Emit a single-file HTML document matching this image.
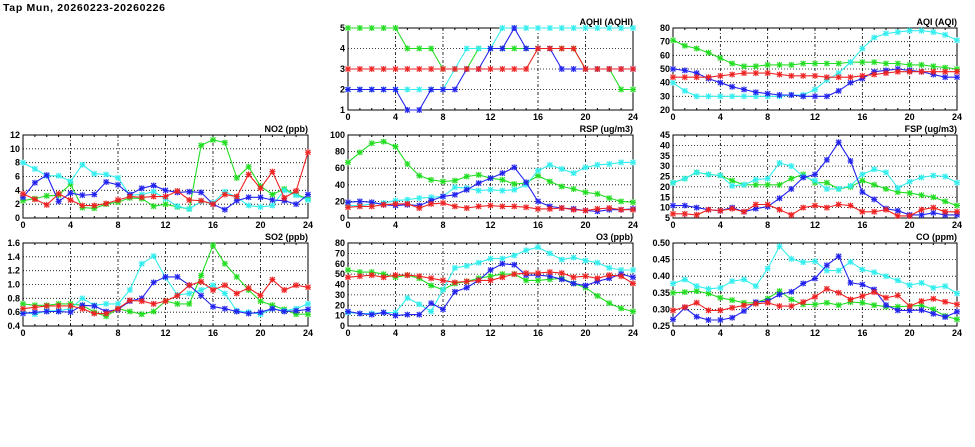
<!DOCTYPE html>
<html><head><meta charset="utf-8"><style>
html,body{margin:0;padding:0;background:#fff;width:975px;height:447px;overflow:hidden}
svg text{font-family:"Liberation Sans",sans-serif;font-weight:bold;font-size:9px;fill:#000}
</style></head><body>
<svg id="s" width="975" height="447" xmlns="http://www.w3.org/2000/svg">
<text x="3" y="11" style="font-size:10.5px" textLength="162">Tap Mun, 20260223-20260226</text>
</svg>
<script>
const S=document.getElementById('s');const NS='http://www.w3.org/2000/svg';
function el(t,a,txt){const e=document.createElementNS(NS,t);for(const k in a)e.setAttribute(k,a[k]);if(txt!==undefined)e.textContent=txt;S.appendChild(e);return e;}
const cols=[[23,308],[348,633],[673,957]],rows=[[28,110],[135,218],[243,326]];
const C={g:'#22dd22',c:'#33eeee',b:'#2222ee',r:'#ee2222'};
const P=[
{c:1,r:0,t:'AQHI (AQHI)',y0:1,y1:5,ticks:[1,2,3,4,5],f:0,d:{
g:[5,5,5,5,5,4,4,4,3,3,3,4,4,4,4,4,4,4,4,4,3,3,3,2,2],
c:[2,2,2,2,2,2,2,2,2,3,4,4,4,5,5,5,5,5,5,5,5,5,5,5,5],
b:[2,2,2,2,2,1,1,2,2,2,3,3,4,4,5,4,4,4,3,3,3,3,3,3,3],
r:[3,3,3,3,3,3,3,3,3,3,3,3,3,3,3,3,4,4,4,4,3,3,3,3,3]}},
{c:2,r:0,t:'AQI (AQI)',y0:20,y1:80,ticks:[20,30,40,50,60,70,80],f:0,d:{
g:[71,67,65,62,58,54,52,52,53,53,53,54,54,54,54,55,55,55,54,54,53,53,52,51,50],
c:[40,34,30,30,30,30,30,30,30,30,31,31,35,42,47,55,65,73,76,77,78,78,77,75,71],
b:[50,49,47,43,40,37,35,33,32,31,31,30,30,30,34,40,43,48,49,50,49,48,46,44,44],
r:[44,44,44,44,45,46,47,47,47,46,45,45,45,44,44,44,45,46,47,48,48,48,48,48,48]}},
{c:0,r:1,t:'NO2 (ppb)',y0:0,y1:12,ticks:[0,2,4,6,8,10,12],f:0,d:{
g:[2.5,2.8,3.2,3.3,4.9,1.5,1.4,2.0,2.3,2.9,2.8,1.7,2.0,1.6,1.3,10.5,11.3,10.9,5.8,7.4,4.6,3.4,4.2,3.4,2.8],
c:[8,7.1,6.1,6.1,5.3,7.7,6.4,6.3,5.8,3.3,3.4,3.8,2.8,1.7,1.3,2.4,2.2,3.8,3.0,1.8,1.6,1.8,4.0,3.3,2.6],
b:[3.0,5.1,6.2,2.4,3.6,3.3,3.4,5.2,4.8,3.4,4.3,4.7,4.0,3.7,3.8,3.7,2.0,1.2,2.5,3.0,3.0,2.6,2.5,2.0,3.4],
r:[3.5,2.7,1.9,3.5,2.6,1.8,1.8,2.1,2.6,3.1,3.0,3.1,3.1,3.9,2.6,2.5,2.0,3.4,3.1,6.3,4.3,6.7,2.9,3.9,9.5]}},
{c:1,r:1,t:'RSP (ug/m3)',y0:0,y1:100,ticks:[0,20,40,60,80,100],f:0,d:{
g:[67,79,90,92,86,65,51,46,44,45,50,52,48,46,41,42,51,44,38,35,31,29,24,20,19],
c:[15,15,17,18,21,22,24,25,26,37,36,33,34,33,34,40,57,64,59,54,61,64,65,67,67],
b:[19,20,19,16,15,16,15,21,26,28,34,42,48,54,61,43,20,14,12,11,9,8,10,10,11],
r:[13,14,14,16,17,17,12,17,18,14,12,14,15,14,14,13,11,11,12,10,9,11,12,10,10]}},
{c:2,r:1,t:'FSP (ug/m3)',y0:5,y1:45,ticks:[5,10,15,20,25,30,35,40,45],f:0,d:{
g:[22,24,27,26,25.5,23,21,21,21,21,24,26,22,22,19,20,23,21,19,17.5,17,16,15,13,11],
c:[22,24,27,26,25.5,20.5,21,23.5,24,31.5,30,25,23,19,19,20.5,26,28.5,27,19.5,22.5,24.5,25.5,25,22],
b:[11,11,10,9,8.5,10,8,9.5,10.5,14.5,19,24.5,26,33,41.5,32.5,17.5,14,9.5,8.5,6.5,6.5,7.5,6.5,6.5],
r:[7,7,6.5,9,8.5,9.5,8,11.5,11.5,9,6.5,10,11,10,11.5,11,8,8,9,6,6,9,10,8,8]}},
{c:0,r:2,t:'SO2 (ppb)',y0:0.4,y1:1.6,ticks:[0.4,0.6,0.8,1.0,1.2,1.4,1.6],f:1,d:{
g:[0.72,0.7,0.7,0.72,0.72,0.7,0.6,0.54,0.65,0.61,0.57,0.61,0.76,0.72,0.72,1.13,1.57,1.3,1.11,0.92,0.76,0.7,0.64,0.57,0.57],
c:[0.6,0.57,0.62,0.62,0.65,0.8,0.7,0.72,0.72,0.92,1.3,1.41,1.1,0.85,0.87,0.92,0.99,0.87,0.62,0.6,0.57,0.65,0.62,0.65,0.72],
b:[0.58,0.6,0.61,0.61,0.6,0.7,0.69,0.61,0.64,0.76,0.8,1.03,1.11,1.11,0.99,0.84,0.68,0.65,0.61,0.58,0.6,0.65,0.61,0.62,0.64],
r:[0.65,0.67,0.69,0.69,0.69,0.65,0.58,0.58,0.65,0.77,0.76,0.72,0.76,0.84,0.99,1.04,0.92,0.99,0.87,0.95,0.84,1.07,0.92,0.99,0.96]}},
{c:1,r:2,t:'O3 (ppb)',y0:0,y1:80,ticks:[0,10,20,30,40,50,60,70,80],f:0,d:{
g:[54,52,52,50,47,49,46,39,35,41,43,46,48,50,50,44,44,45,46,41,37,29,22,17,14],
c:[13,12,12,13,13,27,21,14,35,56,58,61,65,65,68,73,76,70,64,66,63,61,56,54,54],
b:[14,12,11,13,10,11,11,22,16,33,37,44,54,60,59,49,49,48,45,41,39,43,46,50,47],
r:[47,48,49,47,49,49,48,46,44,42,43,44,44,47,50,51,51,52,51,47,48,46,49,48,41]}},
{c:2,r:2,t:'CO (ppm)',y0:0.25,y1:0.5,ticks:[0.25,0.3,0.35,0.4,0.45,0.5],f:2,d:{
g:[0.35,0.352,0.355,0.348,0.335,0.328,0.32,0.32,0.333,0.355,0.33,0.315,0.315,0.32,0.313,0.322,0.32,0.313,0.308,0.308,0.31,0.312,0.3,0.28,0.27],
c:[0.378,0.39,0.37,0.362,0.365,0.385,0.39,0.37,0.423,0.49,0.452,0.442,0.445,0.417,0.417,0.443,0.42,0.412,0.4,0.387,0.373,0.38,0.365,0.37,0.348],
b:[0.27,0.305,0.278,0.268,0.268,0.275,0.295,0.322,0.325,0.345,0.353,0.378,0.393,0.433,0.46,0.38,0.375,0.36,0.313,0.297,0.297,0.298,0.287,0.277,0.293],
r:[0.297,0.307,0.32,0.297,0.297,0.305,0.312,0.317,0.32,0.31,0.31,0.322,0.338,0.362,0.35,0.33,0.34,0.352,0.335,0.342,0.31,0.325,0.332,0.323,0.315]}}
];
for(const p of P){
 const [x0,x1]=cols[p.c],[y0,y1]=rows[p.r];
 const X=h=>x0+(x1-x0)*h/24,Y=v=>y1-(y1-y0)*(v-p.y0)/(p.y1-p.y0);
 for(const t of p.ticks){const y=Y(t);
  if(t!==p.y0&&t!==p.y1)el('line',{x1:x0,x2:x1,y1:y,y2:y,stroke:'#000','stroke-width':0.8,'stroke-dasharray':'1,2'});
  el('text',{x:x0-3,y:y+3,'text-anchor':'end'},p.f?t.toFixed(p.f):String(t));}
 for(let h=0;h<=24;h+=4){const x=X(h);
  if(h>0&&h<24)el('line',{x1:x,x2:x,y1:y0,y2:y1,stroke:'#000','stroke-width':0.8,'stroke-dasharray':'3,2,1,2'});
  el('text',{x:x,y:y1+10,'text-anchor':'middle'},String(h));}
 for(let h=0;h<=24;h++){const x=X(h);el('line',{x1:x,x2:x,y1:y1,y2:y1-2,stroke:'#000'});el('line',{x1:x,x2:x,y1:y0,y2:y0+2,stroke:'#000'});}
 el('rect',{x:x0,y:y0,width:x1-x0,height:y1-y0,fill:'none',stroke:'#000','stroke-width':1});
 el('text',{x:x1,y:y0-3,'text-anchor':'end'},p.t);
 for(const k of ['g','c','b','r']){const d=p.d[k];
  el('polyline',{points:d.map((v,i)=>X(i).toFixed(1)+','+Y(v).toFixed(1)).join(' '),fill:'none',stroke:C[k],'stroke-width':1.1});
  d.forEach((v,i)=>{const x=X(i),y=Y(v);
   el('rect',{x:x-2.5,y:y-2.5,width:5,height:5,fill:C[k],opacity:0.3});
   el('path',{d:`M${x-2.5},${y-2.5}L${x+2.5},${y+2.5}M${x-2.5},${y+2.5}L${x+2.5},${y-2.5}M${x},${y-3}V${y+3}M${x-3},${y}H${x+3}`,stroke:C[k],'stroke-width':1});});}
}
</script>
</body></html>
